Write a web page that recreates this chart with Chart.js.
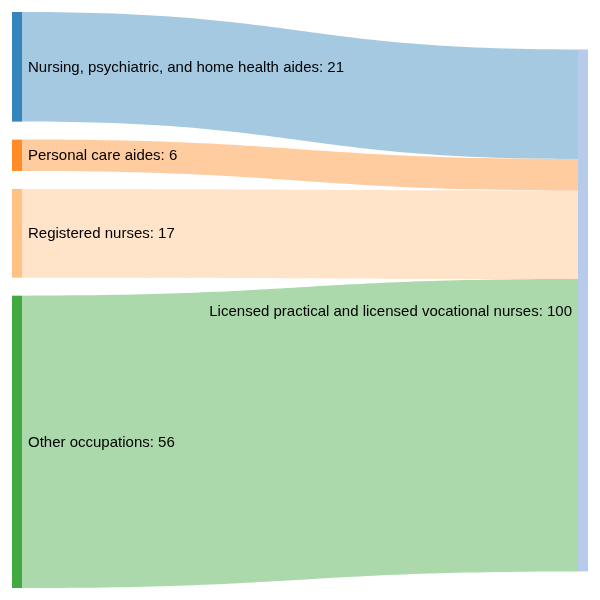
<!DOCTYPE html>
<html>
<head>
<meta charset="utf-8">
<style>
  html, body { margin: 0; padding: 0; background: #fff; }
  #wrap { width: 600px; height: 600px; }
</style>
<script src="https://cdn.jsdelivr.net/npm/chart.js@4.4.1/dist/chart.umd.min.js"></script>
</head>
<body>
<div id="wrap"><canvas id="sankey" width="600" height="600"></canvas></div>
<script>
// Data
const sources = ['Nursing, psychiatric, and home health aides', 'Personal care aides', 'Registered nurses', 'Other occupations'];
const target = 'Licensed practical and licensed vocational nurses';
const flows = [21, 6, 17, 56];
const sourceColors = ['#1f77b4', '#ff7f0e', '#ffbb78', '#2ca02c'];
const targetColor = '#aec7e8';

// Layout (pixels)
const W = 600, H = 600;
const margin = 12, nodeWidth = 10, nodePad = 18;
const total = flows.reduce((a, b) => a + b, 0);
const k = (H - 2 * margin - (sources.length - 1) * nodePad) / total; // px per unit
const padU = nodePad / k, marginU = margin / k;

// left column node positions in value units
const srcNodes = [];
let yy = marginU;
flows.forEach((v, i) => {
    srcNodes.push({ y0: yy, y1: yy + v });
    yy += v + padU;
});
// right node centred on the weighted centre of its sources
let wsum = 0;
srcNodes.forEach((n, i) => { wsum += (n.y0 + n.y1) / 2 * flows[i]; });
const tCenter = wsum / total;
const tNode = { y0: tCenter - total / 2, y1: tCenter + total / 2 };

function hexA(hex, a) {
    const n = parseInt(hex.slice(1), 16);
    return 'rgba(' + (n >> 16) + ',' + ((n >> 8) & 255) + ',' + (n & 255) + ',' + a + ')';
}

const sankeyPlugin = {
    id: 'sankey',
    beforeDatasetsDraw(chart) {
        const ctx = chart.ctx;
        const xs = chart.scales.x, ys = chart.scales.y;
        const xL1 = xs.getPixelForValue(margin + nodeWidth);
        const xR0 = xs.getPixelForValue(W - margin - nodeWidth);
        const xm = (xL1 + xR0) / 2;

        // links
        let ty = tNode.y0;
        flows.forEach((v, i) => {
            const s0 = ys.getPixelForValue(srcNodes[i].y0);
            const s1 = ys.getPixelForValue(srcNodes[i].y1);
            const t0 = ys.getPixelForValue(ty);
            const t1 = ys.getPixelForValue(ty + v);
            ty += v;
            ctx.save();
            ctx.beginPath();
            ctx.moveTo(xL1, s0);
            ctx.bezierCurveTo(xm, s0, xm, t0, xR0, t0);
            ctx.lineTo(xR0, t1);
            ctx.bezierCurveTo(xm, t1, xm, s1, xL1, s1);
            ctx.closePath();
            ctx.fillStyle = hexA(sourceColors[i], 0.4);
            ctx.fill();
            ctx.restore();
        });

        // nodes
        ctx.save();
        srcNodes.forEach((n, i) => {
            const x0 = xs.getPixelForValue(margin);
            const y0 = ys.getPixelForValue(n.y0), y1 = ys.getPixelForValue(n.y1);
            ctx.fillStyle = hexA(sourceColors[i], 0.9);
            ctx.fillRect(x0, y0, xL1 - x0, y1 - y0);
        });
        const tx1 = xs.getPixelForValue(W - margin);
        const ty0 = ys.getPixelForValue(tNode.y0), ty1 = ys.getPixelForValue(tNode.y1);
        ctx.fillStyle = hexA(targetColor, 0.9);
        ctx.fillRect(xR0, ty0, tx1 - xR0, ty1 - ty0);

        // labels
        ctx.font = '15px Arial, "Liberation Sans", sans-serif';
        ctx.fillStyle = '#000';
        ctx.textBaseline = 'middle';
        ctx.textAlign = 'left';
        srcNodes.forEach((n, i) => {
            const yc = ys.getPixelForValue((n.y0 + n.y1) / 2);
            ctx.fillText(sources[i] + ': ' + flows[i], xL1 + 6, yc + 1);
        });
        ctx.textAlign = 'right';
        ctx.fillText(target + ': ' + total, xR0 - 6, (ty0 + ty1) / 2 + 1);
        ctx.restore();
    }
};

new Chart(document.getElementById('sankey').getContext('2d'), {
    type: 'scatter',
    data: { datasets: [] },
    options: {
        responsive: false,
        animation: false,
        layout: { padding: 0 },
        plugins: { legend: { display: false }, tooltip: { enabled: false } },
        scales: {
            x: { type: 'linear', display: false, min: 0, max: W },
            y: { type: 'linear', display: false, reverse: true, min: 0, max: H / k }
        }
    },
    plugins: [sankeyPlugin]
});
</script>
</body>
</html>
